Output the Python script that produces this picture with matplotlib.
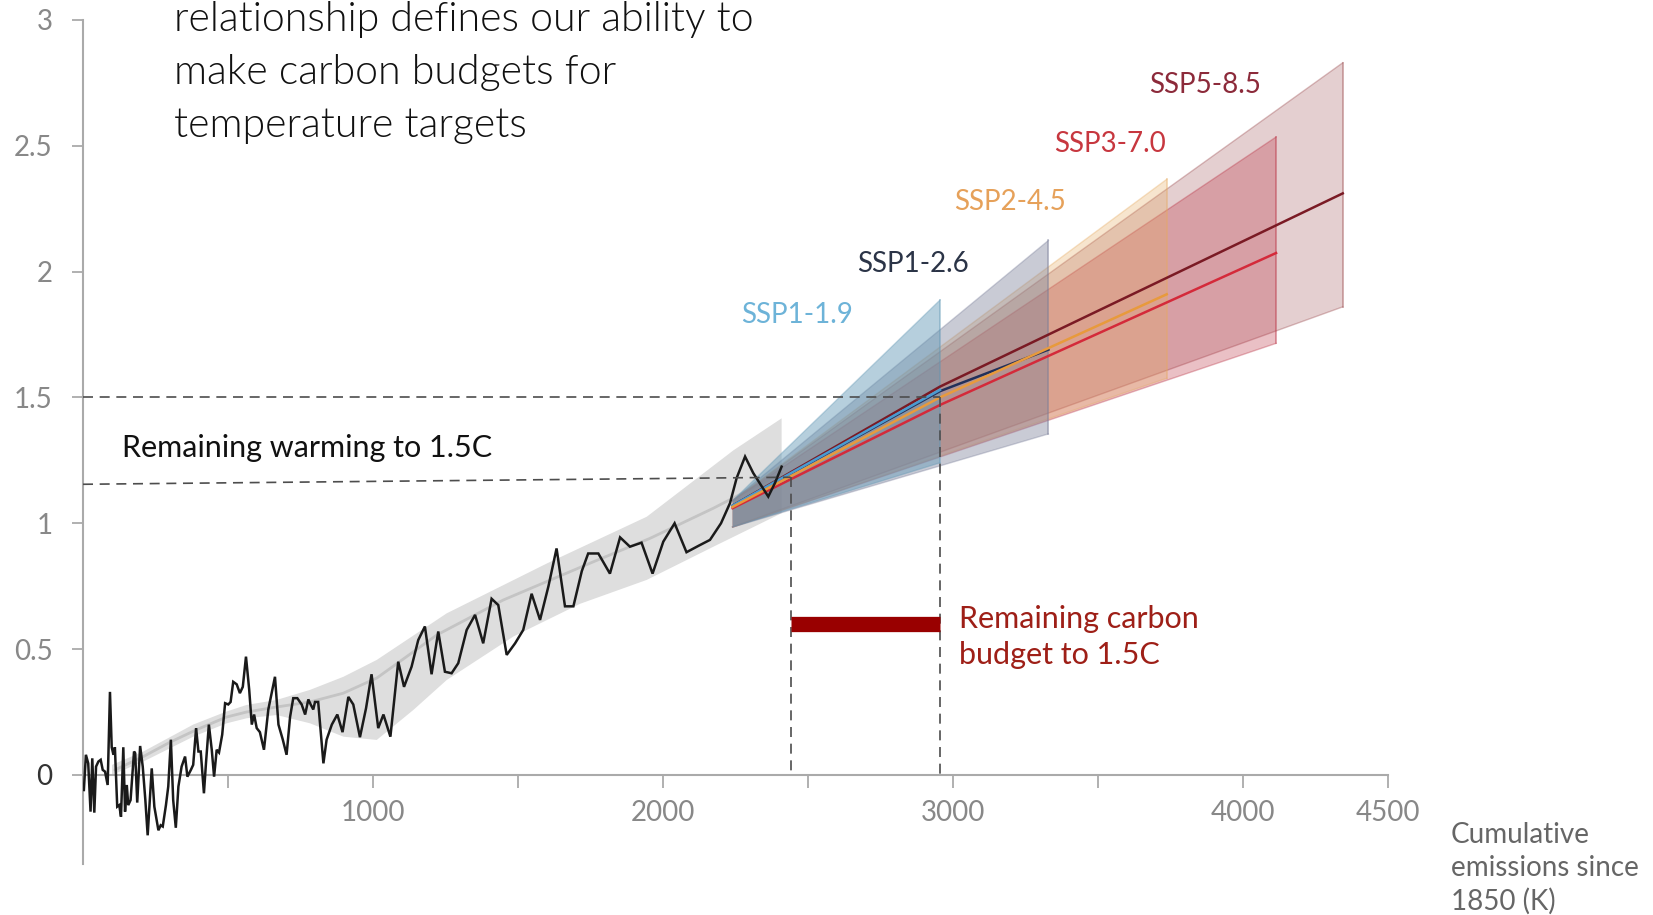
import numpy as np
import matplotlib
matplotlib.use("Agg")
import matplotlib.pyplot as plt
from matplotlib import font_manager as fm

# ---------------- data ----------------
# observed warming vs cumulative CO2 emissions (GtCO2)
hist_x = [3, 10, 18, 26, 32, 39, 45, 53, 61, 68, 76, 85, 93, 99, 105, 110, 118, 125, 131, 139,
          145, 151, 156, 164, 176, 180, 187, 197, 206, 215, 223, 237, 246, 260, 268, 275, 286, 294,
          303, 311, 320, 329, 340, 352, 360, 372, 380, 390, 398, 406, 417, 424, 434, 444, 452, 461,
          469, 480, 490, 501, 509, 518, 530, 541, 551, 562, 573, 582, 590, 599, 610, 624, 639, 662,
          674, 689, 702, 714, 725, 739, 754, 766, 777, 785, 794, 800, 811, 829, 840, 858, 877, 895,
          915, 932, 955, 976, 995, 1018, 1036, 1060, 1087, 1107, 1133, 1156, 1179, 1202, 1225, 1248,
          1271, 1294, 1323, 1352, 1380, 1409, 1432, 1461, 1490, 1518, 1547, 1576, 1605, 1633, 1662,
          1691, 1720, 1742, 1777, 1817, 1852, 1886, 1926, 1964, 2001, 2040, 2081, 2125, 2162, 2200,
          2231, 2254, 2283, 2311, 2363, 2386, 2409]
hist_y = [-0.06, 0.08, 0.046, -0.146, 0.066, -0.15, 0.033, 0.053, 0.06, 0.02, 0.013, -0.04, 0.33,
          0.11, 0.08, 0.11, -0.126, -0.12, -0.166, 0.11, -0.146, -0.04, -0.12, -0.10, 0.093, 0.086,
          -0.11, 0.115, 0.033, -0.10, -0.24, 0.026, -0.126, -0.22, -0.2, -0.205, -0.12, -0.046, 0.14,
          -0.10, -0.21, -0.046, 0.033, 0.073, -0.007, 0.02, 0.04, 0.186, 0.093, 0.093, -0.073, 0.046,
          0.2, 0.1, -0.007, 0.1, 0.089, 0.16, 0.285, 0.28, 0.29, 0.37, 0.36, 0.325, 0.35, 0.47, 0.34,
          0.2, 0.24, 0.186, 0.17, 0.1, 0.26, 0.39, 0.2, 0.14, 0.08, 0.23, 0.305, 0.305, 0.28, 0.24,
          0.3, 0.28, 0.26, 0.29, 0.29, 0.046, 0.14, 0.2, 0.24, 0.17, 0.31, 0.28, 0.15, 0.265, 0.40,
          0.186, 0.24, 0.152, 0.45, 0.35, 0.43, 0.536, 0.59, 0.40, 0.57, 0.41, 0.404, 0.444, 0.576,
          0.636, 0.523, 0.70, 0.675, 0.477, 0.523, 0.576, 0.72, 0.616, 0.75, 0.90, 0.67, 0.67, 0.81,
          0.88, 0.88, 0.80, 0.944, 0.907, 0.923, 0.80, 0.927, 1.0, 0.885, 0.912, 0.934, 1.0, 1.08,
          1.18, 1.265, 1.2, 1.106, 1.16, 1.225]

# smoothed historical estimate and its range
trend_x = [110, 208, 300, 392, 495, 564, 668, 783, 898, 1013, 1220, 1449, 1760, 1955, 2174, 2409]
trend_y = [0.02, 0.073, 0.13, 0.18, 0.23, 0.25, 0.27, 0.29, 0.325, 0.385, 0.556, 0.695, 0.847,
           0.94, 1.06, 1.2]
range_hi_x = [100, 208, 380, 495, 564, 668, 783, 898, 1013, 1254, 1599, 1944, 2243, 2409]
range_hi_y = [0.04, 0.093, 0.2, 0.252, 0.278, 0.298, 0.338, 0.39, 0.457, 0.642, 0.84, 1.026,
              1.29, 1.417]
range_lo_x = [100, 208, 380, 495, 564, 668, 783, 898, 1013, 1139, 1254, 1484, 1714, 1944, 2174,
              2409]
range_lo_y = [0.0, 0.053, 0.152, 0.205, 0.225, 0.238, 0.205, 0.152, 0.139, 0.258, 0.377, 0.55,
              0.68, 0.775, 0.907, 1.04]

# scenario projections
scenarios = ["SSP5-8.5", "SSP3-7.0", "SSP2-4.5", "SSP1-2.6", "SSP1-1.9"]
proj_start = 2240
proj_end = [4344, 4114, 3737, 3329, 2955]
start_hi = [1.09, 1.09, 1.09, 1.09, 1.09]
start_lo = [0.985, 0.985, 0.985, 0.985, 0.985]
end_hi = [2.83, 2.535, 2.367, 2.124, 1.887]
end_lo = [1.86, 1.715, 1.576, 1.355, 1.24]
# central estimates: (x, y) vertices
central_x = [[2240, 2955, 4344], [2240, 2955, 4114], [2240, 2955, 3737], [2240, 2955, 3329],
             [2240, 2955]]
central_y = [[1.07, 1.543, 2.311], [1.06, 1.47, 2.074], [1.065, 1.50, 1.91], [1.07, 1.525, 1.69],
             [1.07, 1.53]]
label_x = [3869, 3541, 3197, 2862, 2462]
label_y = [2.71, 2.475, 2.245, 2.0, 1.796]

# remaining budget markers
current_warming = [1.155, 1.183]
target_warming = 1.5
budget_from = 2440
budget_to = 2955
budget_bar_y = 0.598

x_ticks = [500, 1000, 1500, 2000, 2500, 3000, 3500, 4000, 4500]
x_ticklabels = ["", "1000", "", "2000", "", "3000", "", "4000", "4500"]
y_ticks = [0, 0.5, 1, 1.5, 2, 2.5, 3]
y_ticklabels = ["0", "0.5", "1", "1.5", "2", "2.5", "3"]

title_lines = ["relationship defines our ability to",
               "make carbon budgets for",
               "temperature targets"]
xlabel_lines = ["Cumulative", "emissions since", "1850 (K)"]

# ---------------- styling ----------------
fill_colors = ["#974347", "#BA3042", "#E6AA5F", "#787D98", "#5F96B4"]
fill_alpha = [0.25, 0.30, 0.30, 0.40, 0.45]
line_colors = ["#7A1A24", "#D42A3A", "#E89A3C", "#22305A", "#4A9BD0"]
line_order = [3.0, 3.1, 3.5, 3.2, 3.3]
label_colors = ["#8C2A3A", "#C7373F", "#E6A15A", "#2B3447", "#6DB3D8"]


def light_family(preferred):
    """Return the first preferred family that has a light face installed."""
    light = set()
    for f in fm.fontManager.ttflist:
        w = f.weight
        if isinstance(w, str):
            ok = "light" in w.lower() or "thin" in w.lower()
        else:
            ok = 100 <= int(w) <= 300
        if ok:
            light.add(f.name)
    for name in preferred:
        if name in light:
            return name
    return preferred[0]


base_font = "Lato"
title_font = light_family(["Lato", "Open Sans", "Roboto", "Noto Sans", "Inter"])

plt.rcParams["font.family"] = [base_font, "DejaVu Sans"]

W, H = 1653, 915
fig = plt.figure(figsize=(W / 100, H / 100), dpi=100)
ax = fig.add_axes([83 / W, 1 - 864 / H, 1305 / W, (864 - 20) / H])
ax.set_xlim(0, 4500)
ax.set_ylim(-0.354, 3.0)

# historical range band and smoothed estimate
ax.fill(list(range_hi_x) + list(range_lo_x[::-1]), list(range_hi_y) + list(range_lo_y[::-1]),
        color="#DEDEDE", lw=0, zorder=1)
ax.plot(trend_x, trend_y, color="#C4C4C4", lw=2.0, zorder=1.5, solid_capstyle="round")

# projection fans
for i, name in enumerate(scenarios):
    px = [proj_start, proj_end[i], proj_end[i], proj_start]
    py = [start_hi[i], end_hi[i], end_lo[i], start_lo[i]]
    ax.fill(px, py, facecolor=fill_colors[i], alpha=fill_alpha[i], edgecolor="none", zorder=2 + i * 0.1)
    ax.plot([proj_end[i], proj_end[i]], [end_lo[i], end_hi[i]], color=fill_colors[i],
            alpha=0.5, lw=1.2, zorder=2 + i * 0.1)
    ax.plot(px[:2], py[:2], color=fill_colors[i], alpha=0.35, lw=1.0, zorder=2 + i * 0.1)
    ax.plot(px[2:], py[2:], color=fill_colors[i], alpha=0.35, lw=1.0, zorder=2 + i * 0.1)

for i, name in enumerate(scenarios):
    ax.plot(central_x[i], central_y[i], color=line_colors[i], lw=1.8, zorder=line_order[i])
    ax.text(label_x[i], label_y[i], name, color=label_colors[i], fontsize=20,
            ha="center", va="baseline", zorder=6)

# observations
ax.plot(hist_x, hist_y, color="#1A1A1A", lw=1.8, zorder=4, solid_joinstyle="miter")

# remaining budget guides
dash = (0, (6, 4))
guide = "#4D4D4D"
ax.plot([0, budget_to], [target_warming, target_warming], color=guide, lw=1.2,
        linestyle=dash, zorder=5)
ax.plot([0, budget_from], current_warming, color=guide, lw=1.2, linestyle=dash, zorder=5)
ax.plot([budget_from, budget_from], [current_warming[1], 0], color=guide, lw=1.2,
        linestyle=dash, zorder=5)
ax.plot([budget_to, budget_to], [target_warming, 0], color=guide, lw=1.2,
        linestyle=dash, zorder=5)
ax.plot([budget_from, budget_to], [budget_bar_y, budget_bar_y], color="#990000", lw=11,
        solid_capstyle="butt", zorder=5)

ax.text(134, 1.265, "Remaining warming to 1.5C", fontsize=22, color="#111111",
        ha="left", va="baseline")
ax.text(3021, 0.584, "Remaining carbon", fontsize=22, color="#9E1F17", ha="left", va="baseline")
ax.text(3021, 0.441, "budget to 1.5C", fontsize=22, color="#9E1F17", ha="left", va="baseline")

# axes
for s in ("top", "right"):
    ax.spines[s].set_visible(False)
ax.spines["bottom"].set_position(("data", 0))
ax.spines["bottom"].set_bounds(0, 4500)
for s in ("left", "bottom"):
    ax.spines[s].set_color("#AAAAAA")
    ax.spines[s].set_linewidth(1.5)
ax.set_xticks(x_ticks)
ax.set_xticklabels(x_ticklabels)
ax.set_yticks(y_ticks)
ax.set_yticklabels(y_ticklabels)
ax.tick_params(axis="x", length=9, width=1.3, color="#AAAAAA", pad=9, labelsize=20,
               labelcolor="#888888")
ax.tick_params(axis="y", length=8, width=1.3, color="#AAAAAA", pad=14, labelsize=20,
               labelcolor="#888888")
ax.get_yticklabels()[0].set_color("#333333")

# heading and axis caption
for k, line in enumerate(title_lines):
    fig.text(174 / W, 1 - (30.5 + 53.5 * k) / H, line, fontsize=29.5, fontfamily=title_font,
             fontweight=300, color="#111111", ha="left", va="baseline")
for k, line in enumerate(xlabel_lines):
    fig.text(1451 / W, 1 - (843 + 33.5 * k) / H, line, fontsize=20, color="#666666",
             ha="left", va="baseline")

fig.savefig("out.png", dpi=100)
